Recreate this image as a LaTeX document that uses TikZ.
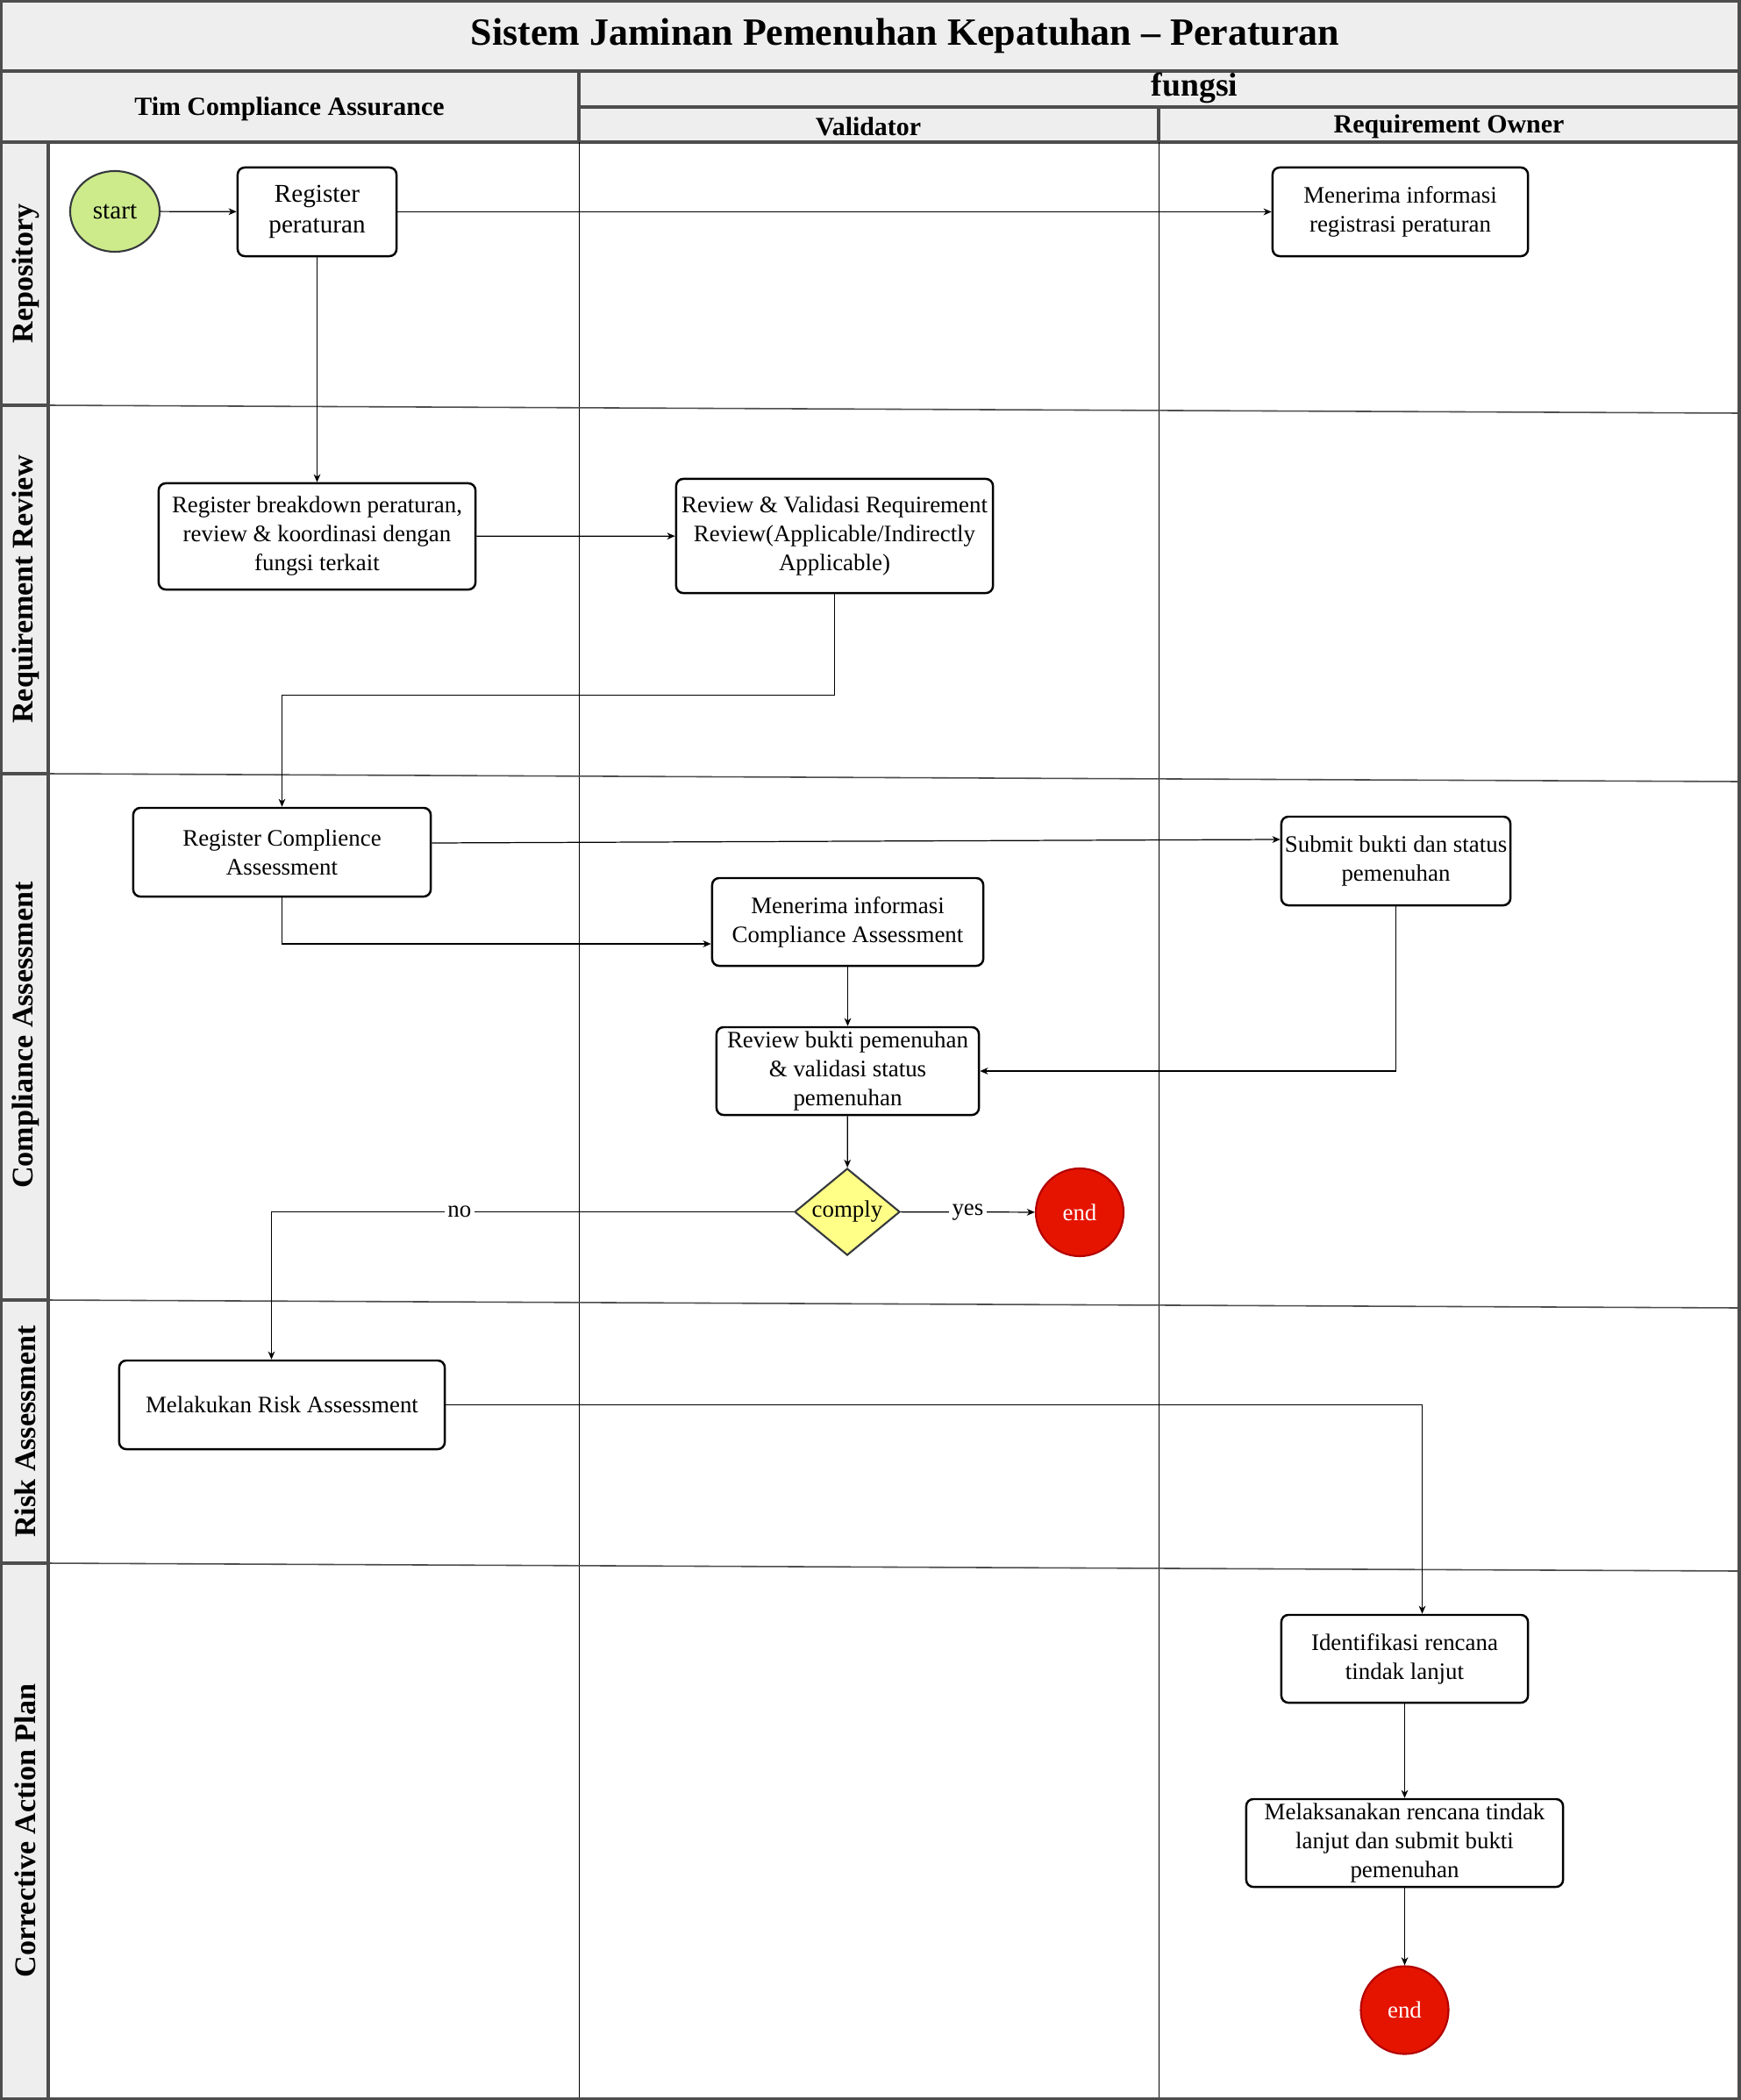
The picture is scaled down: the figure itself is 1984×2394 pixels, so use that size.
\documentclass[tikz,border=0pt]{standalone}
\usepackage{fontspec}
\setmainfont{Liberation Serif}
\usetikzlibrary{arrows.meta,shapes.geometric}
\definecolor{hdr}{HTML}{EEEEEE}
\definecolor{lanegray}{HTML}{4D4D4D}
\definecolor{startgreen}{HTML}{CDEB8B}
\definecolor{startborder}{HTML}{36393D}
\definecolor{endred}{HTML}{E51400}
\definecolor{endborder}{HTML}{B20000}
\definecolor{complyfill}{HTML}{FFFF88}
\begin{document}
\begin{tikzpicture}[x=0.01cm,y=-0.01cm,
  box/.style={draw=black, line width=0.7pt, rounded corners=0.08cm, fill=white, align=center,
    inner sep=1pt, font=\fontsize{7.65}{9.4}\selectfont},
  arr/.style={-{Stealth[length=2.6pt,width=2.2pt,inset=0.8pt]}, line width=0.35pt, draw=black},
  startnode/.style={ellipse, draw=startborder, line width=0.6pt, fill=startgreen, inner sep=0pt,
    minimum width=1.02cm, minimum height=0.92cm, font=\fontsize{8.3}{10}\selectfont},
  endnode/.style={circle, draw=endborder, line width=0.6pt, fill=endred, text=white, inner sep=0pt,
    minimum size=1.0cm, font=\fontsize{7.65}{9.4}\selectfont},
  lbl/.style={fill=white, inner sep=1pt, font=\fontsize{7.65}{9.4}\selectfont},
  hdrtext/.style={font=\fontsize{8.5}{10}\selectfont\bfseries},
  lanetext/.style={rotate=90, font=\fontsize{9.7}{11}\selectfont\bfseries},
  laneline/.style={draw=lanegray, line width=0.45pt},
  colline/.style={draw=black, line width=0.25pt}
]
\useasboundingbox (0,0) rectangle (1984,2394);
% ---------- header ----------
\fill[white] (0,0) rectangle (1984,2394);
\draw[fill=hdr, draw=lanegray, line width=0.9pt] (0,0) rectangle (1984,81);
\draw[fill=hdr, draw=lanegray, line width=0.9pt] (0,81) rectangle (660,162);
\draw[fill=hdr, draw=lanegray, line width=0.9pt] (660,81) rectangle (1984,122);
\draw[fill=hdr, draw=lanegray, line width=0.9pt] (660,122) rectangle (1321,162);
\draw[fill=hdr, draw=lanegray, line width=0.9pt] (1321,122) rectangle (1984,162);
\node[font=\fontsize{12.5}{15}\selectfont\bfseries] (ttl) at (1032,41) {Sistem Jaminan Pemenuhan Kepatuhan \textendash{} Peraturan};
\node[hdrtext] (htim) at (330,124) {Tim Compliance Assurance};
\node[font=\fontsize{10.7}{12}\selectfont\bfseries] (hfungsi) at (1362,100) {fungsi};
\node[hdrtext] (hval) at (990,144) {Validator};
\node[hdrtext] (hro) at (1652,144) {Requirement Owner};
% ---------- lane label column ----------
\draw[fill=hdr, draw=lanegray, line width=0.9pt] (0,162) rectangle (55,462);
\draw[fill=hdr, draw=lanegray, line width=0.9pt] (0,462) rectangle (55,882);
\draw[fill=hdr, draw=lanegray, line width=0.9pt] (0,882) rectangle (55,1482);
\draw[fill=hdr, draw=lanegray, line width=0.9pt] (0,1482) rectangle (55,1782);
\draw[fill=hdr, draw=lanegray, line width=0.9pt] (0,1782) rectangle (55,2393);
\node[lanetext] (l1) at (29,312) {Repository};
\node[lanetext] (l2) at (29,672) {Requirement Review};
\node[lanetext] (l3) at (29,1180) {Compliance Assessment};
\node[lanetext] (l4) at (29,1632) {Risk Assessment};
\node[lanetext] (l5) at (29,2087) {Corrective Action Plan};
% ---------- grid ----------
\draw[colline] (660,162) -- (660,2393);
\draw[colline] (1321,162) -- (1321,2393);
\draw[laneline] (55,462) -- (1984,471);
\draw[laneline] (55,882) -- (1984,891);
\draw[laneline] (55,1482) -- (1984,1491);
\draw[laneline] (55,1782) -- (1984,1791);
\draw[draw=lanegray, line width=0.9pt] (1,1) rectangle (1983,2393);
% ---------- nodes ----------
\node[startnode] (start) at (131,241) {start};
\node[box, minimum width=1.81cm, minimum height=1.01cm, font=\fontsize{8.3}{10}\selectfont] (regper) at (361.5,241.5) {Register\\peraturan};
\node[box, minimum width=2.91cm, minimum height=1.01cm] (terima1) at (1596.5,241.5) {Menerima informasi\\registrasi peraturan};
\node[box, minimum width=3.61cm, minimum height=1.21cm] (breakdown) at (361.5,611.5) {Register breakdown peraturan,\\review \& koordinasi dengan\\fungsi terkait};
\node[box, minimum width=3.61cm, minimum height=1.30cm] (validasi) at (951.5,611) {Review \& Validasi Requirement\\Review(Applicable/Indirectly\\Applicable)};
\node[box, minimum width=3.39cm, minimum height=1.01cm] (regca) at (321.5,971.5) {Register Complience\\Assessment};
\node[box, minimum width=3.09cm, minimum height=1.00cm] (terimaca) at (966.5,1051) {Menerima informasi\\Compliance Assessment};
\node[box, minimum width=2.99cm, minimum height=1.00cm] (reviewbukti) at (966.5,1221) {Review bukti pemenuhan\\\& validasi status\\pemenuhan};
\node[diamond, draw=startborder, line width=0.6pt, fill=complyfill, inner sep=0pt, aspect=1.2,
  minimum width=1.2cm, minimum height=0.99cm, font=\fontsize{7.65}{9.4}\selectfont] (comply) at (966,1381.5) {comply};
\node[endnode] (end1) at (1231,1382) {end};
\node[box, minimum width=2.61cm, minimum height=1.01cm] (submit) at (1591.5,981.5) {Submit bukti dan status\\pemenuhan};
\node[box, minimum width=3.71cm, minimum height=1.01cm] (risk) at (321.5,1601.5) {Melakukan Risk Assessment};
\node[box, minimum width=2.81cm, minimum height=1.00cm] (ident) at (1601.5,1891) {Identifikasi rencana\\tindak lanjut};
\node[box, minimum width=3.61cm, minimum height=1.00cm] (laksana) at (1601.5,2101) {Melaksanakan rencana tindak\\lanjut dan submit bukti\\pemenuhan};
\node[endnode] (end2) at (1601.5,2291.5) {end};
% ---------- connectors ----------
\draw[arr] (start) -- (regper);
\draw[arr] (regper) -- (terima1);
\draw[arr] (regper) -- (breakdown);
\draw[arr] (breakdown) -- (validasi);
\draw[arr] (validasi.south) -- ++(0,115) -| (regca.north);
\draw[arr] ([yshift=0.105cm]regca.east) -- ([yshift=0.245cm]submit.west);
\draw[arr] (regca.south) |- ([yshift=-0.25cm]terimaca.west);
\draw[arr] (terimaca) -- (reviewbukti);
\draw[arr] (submit.south) |- (reviewbukti.east);
\draw[arr] (reviewbukti) -- (comply);
\draw[arr] (comply) -- node[lbl] (yeslbl) {yes} (end1);
\draw[arr] (comply.west) -| node[lbl, pos=0.32] (nolbl) {no} ([xshift=-0.12cm]risk.north);
\draw[arr] (risk.east) -| ([xshift=0.2cm]ident.north);
\draw[arr] (ident) -- (laksana);
\draw[arr] (laksana) -- (end2);
\end{tikzpicture}
\end{document}
